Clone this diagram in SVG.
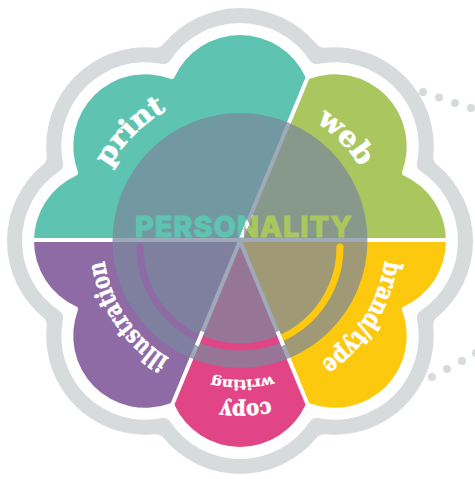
<svg xmlns="http://www.w3.org/2000/svg" width="475" height="479" viewBox="0 0 475 479">
<style>
.lbl{font-family:"DejaVu Serif","Liberation Serif",serif;font-weight:bold;fill:#ffffff;stroke:#ffffff;stroke-width:0.6}
.div{stroke:#ffffff;stroke-width:4;fill:none}
.ring{fill:none;stroke-width:7}
.dot{fill:#d7dbdc}
</style>
<defs>
<path id="flower" d="M403.70,175.41 A72,72 0 0 1 403.70,306.59 A3,3 0 0 0 402.13,310.37 A72,72 0 0 1 309.37,403.13 A3,3 0 0 0 305.59,404.70 A72,72 0 0 1 174.41,404.70 A3,3 0 0 0 170.63,403.13 A72,72 0 0 1 77.87,310.37 A3,3 0 0 0 76.30,306.59 A72,72 0 0 1 76.30,175.41 A3,3 0 0 0 77.87,171.63 A72,72 0 0 1 170.63,78.87 A3,3 0 0 0 174.41,77.30 A72,72 0 0 1 305.59,77.30 A3,3 0 0 0 309.37,78.87 A72,72 0 0 1 402.13,171.63 A3,3 0 0 0 403.70,175.41 Z"/>
<clipPath id="flowerClip"><use href="#flower"/></clipPath>
<linearGradient id="persGrad" gradientUnits="userSpaceOnUse" x1="193.81" y1="221.87" x2="286.19" y2="260.13">
<stop offset="0" stop-color="#5ec4b1"/><stop offset="0.48" stop-color="#5ec4b1"/>
<stop offset="0.48" stop-color="#ffffff"/><stop offset="0.52" stop-color="#ffffff"/>
<stop offset="0.52" stop-color="#a9c75e"/><stop offset="1" stop-color="#a9c75e"/>
</linearGradient>
<path id="arcPrint" d="M134.13,346.87 A149,149 0 0 1 134.13,135.13 A149,149 0 0 1 345.87,135.13"/>
<path id="arcWeb" d="M141.17,140.43 A141,141 0 0 1 340.57,142.17 A141,141 0 0 1 338.83,341.57"/>
<path id="arcBrand" d="M317.37,117.18 A146,146 0 0 1 363.82,318.37 A146,146 0 0 1 162.63,364.82"/>
<path id="arcIllus" d="M315.81,355.11 A137,137 0 0 1 125.89,316.81 A137,137 0 0 1 164.19,126.89"/>
<path id="arcCopy" d="M402.90,235.31 A163,163 0 0 1 245.69,403.90 A163,163 0 0 1 77.10,246.69"/>
<path id="arcWriting" d="M378.98,238.57 A139,139 0 0 1 242.43,379.98 A139,139 0 0 1 101.02,243.43"/>
</defs>

<g id="dots">
<circle class="dot" cx="423" cy="92" r="4"/><circle class="dot" cx="439" cy="97.5" r="4"/><circle class="dot" cx="455" cy="103" r="4"/><circle class="dot" cx="471" cy="108" r="4"/>
<circle class="dot" cx="432" cy="377" r="4"/><circle class="dot" cx="447" cy="369" r="4"/><circle class="dot" cx="462" cy="361" r="4"/><circle class="dot" cx="476" cy="353" r="4"/>
</g>

<g id="outline">
<path fill="#d7dbdc" d="M436.88,164.54 A99,99 0 0 1 436.88,317.46 A10,10 0 0 0 433.28,326.15 A99,99 0 0 1 325.15,434.28 A10,10 0 0 0 316.46,437.88 A99,99 0 0 1 163.54,437.88 A10,10 0 0 0 154.85,434.28 A99,99 0 0 1 46.72,326.15 A10,10 0 0 0 43.12,317.46 A99,99 0 0 1 43.12,164.54 A10,10 0 0 0 46.72,155.85 A99,99 0 0 1 154.85,47.72 A10,10 0 0 0 163.54,44.12 A99,99 0 0 1 316.46,44.12 A10,10 0 0 0 325.15,47.72 A99,99 0 0 1 433.28,155.85 A10,10 0 0 0 436.88,164.54 Z"/>
<path fill="#ffffff" d="M420.51,171.06 A84,84 0 0 1 420.51,310.94 A8,8 0 0 0 417.10,319.19 A84,84 0 0 1 318.19,418.10 A8,8 0 0 0 309.94,421.51 A84,84 0 0 1 170.06,421.51 A8,8 0 0 0 161.81,418.10 A84,84 0 0 1 62.90,319.19 A8,8 0 0 0 59.49,310.94 A84,84 0 0 1 59.49,171.06 A8,8 0 0 0 62.90,162.81 A84,84 0 0 1 161.81,63.90 A8,8 0 0 0 170.06,60.49 A84,84 0 0 1 309.94,60.49 A8,8 0 0 0 318.19,63.90 A84,84 0 0 1 417.10,162.81 A8,8 0 0 0 420.51,171.06 Z"/>
</g>

<g id="print" clip-path="url(#flowerClip)">
<polygon fill="#5ec4b1" points="240,241 -60,241 -60,-60 364.7,-60"/>
<text class="lbl" font-size="28"><textPath href="#arcPrint" startOffset="50%" text-anchor="middle" textLength="82" lengthAdjust="spacingAndGlyphs">print</textPath></text>
</g>
<g id="web" clip-path="url(#flowerClip)">
<polygon fill="#a9c75e" points="240,241 364.7,-60 540,-60 540,241"/>
<text class="lbl" font-size="28"><textPath href="#arcWeb" startOffset="50%" text-anchor="middle" textLength="64" lengthAdjust="spacingAndGlyphs">web</textPath></text>
</g>
<g id="brand-type" clip-path="url(#flowerClip)">
<polygon fill="#fdc90f" points="240,241 540,241 540,540 363.8,540"/>
<text class="lbl" font-size="25"><textPath href="#arcBrand" startOffset="50%" text-anchor="middle" textLength="124" lengthAdjust="spacingAndGlyphs">brand/type</textPath></text>
</g>
<g id="copy-writing" clip-path="url(#flowerClip)">
<polygon fill="#e24585" points="240,241 363.8,540 116.2,540"/>
<text class="lbl" font-size="22"><textPath href="#arcCopy" startOffset="50%" text-anchor="middle" textLength="50" lengthAdjust="spacingAndGlyphs">copy</textPath></text>
<text class="lbl" font-size="14" style="stroke-width:0.3"><textPath href="#arcWriting" startOffset="50%" text-anchor="middle" textLength="62" lengthAdjust="spacingAndGlyphs">writing</textPath></text>
</g>
<g id="illustration" clip-path="url(#flowerClip)">
<polygon fill="#8e6ba5" points="240,241 116.2,540 -60,540 -60,241"/>
<text class="lbl" font-size="25"><textPath href="#arcIllus" startOffset="50%" text-anchor="middle" textLength="121" lengthAdjust="spacingAndGlyphs">illustration</textPath></text>
</g>

<g id="connectors">
<line class="div" x1="28" y1="240" x2="452" y2="240"/>
<line class="div" x1="240" y1="241" x2="311.9" y2="67.3"/>
<line class="div" x1="240" y1="241" x2="168.1" y2="414.7"/>
<line class="div" x1="240" y1="241" x2="311.9" y2="414.7"/>
</g>

<g id="personality">
<circle cx="240" cy="240.5" r="127.5" fill="#7a889c" fill-opacity="0.72"/>
<path class="ring" stroke="#e24585" d="M199.62,338.47 A100,100 0 0 0 280.38,338.47"/>
<path class="ring" stroke="#8e6ba5" d="M140,247 A100,100 0 0 0 199.62,338.47"/>
<path class="ring" stroke="#fdc90f" d="M280.38,338.47 A100,100 0 0 0 340,247"/>
<circle cx="140" cy="247" r="3.5" fill="#8e6ba5"/>
<circle cx="340" cy="247" r="3.5" fill="#fdc90f"/>
<line class="div" x1="202.5" y1="331.5" x2="196.8" y2="345.4"/>
<line class="div" x1="277.5" y1="331.5" x2="283.2" y2="345.4"/>
<text x="135" y="237" font-family="Inter, Lato, 'Open Sans', sans-serif" font-weight="800" font-size="29" fill="url(#persGrad)" stroke="url(#persGrad)" stroke-width="0.8" textLength="217" lengthAdjust="spacing">PERSONALITY</text>
</g>
</svg>
